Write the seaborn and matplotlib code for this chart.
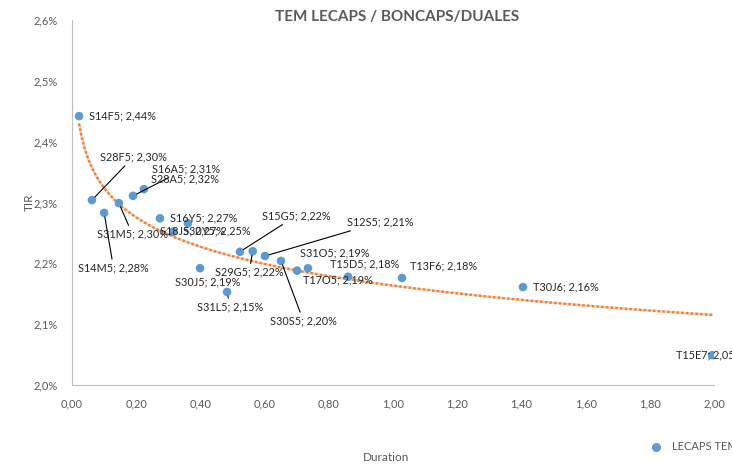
import numpy as np
import pandas as pd
import matplotlib
matplotlib.use("Agg")
import matplotlib.pyplot as plt
import seaborn as sns
from matplotlib.ticker import FuncFormatter
from matplotlib.lines import Line2D

# ---- data ----
tickers = ["S14F5", "S28F5", "S14M5", "S31M5", "S16A5", "S28A5", "S16Y5", "S30Y5",
           "S18J5", "S30J5", "S31L5", "S15G5", "S29G5", "S12S5", "S30S5", "S31O5",
           "T17O5", "T15D5", "T13F6", "T30J6", "T15E7"]
duration = [0.022, 0.062, 0.100, 0.146, 0.190, 0.224, 0.274, 0.315,
            0.361, 0.399, 0.483, 0.523, 0.563, 0.601, 0.651, 0.701,
            0.735, 0.860, 1.028, 1.405, 1.994]
tir = [2.442, 2.304, 2.283, 2.299, 2.311, 2.322, 2.274, 2.252,
       2.266, 2.192, 2.153, 2.219, 2.220, 2.212, 2.204, 2.188,
       2.192, 2.178, 2.176, 2.161, 2.049]
x_ticks = [0.0, 0.2, 0.4, 0.6, 0.8, 1.0, 1.2, 1.4, 1.6, 1.8, 2.0]
y_ticks = [2.0, 2.1, 2.2, 2.3, 2.4, 2.5, 2.6]
series_name = "LECAPS TEM"
title = "TEM LECAPS / BONCAPS/DUALES"

df = pd.DataFrame({"ticker": tickers, "duration": duration, "tir": tir})

# logarithmic trendline fitted from the data
b, a = np.polyfit(np.log(df["duration"]), df["tir"], 1)
xt = np.linspace(df["duration"].min(), df["duration"].max(), 300)
trend = pd.DataFrame({"duration": xt, "tir": a + b * np.log(xt)})

# ---- style ----
sns.set_theme(style="white")
plt.rcParams["font.family"] = ["Lato", "DejaVu Sans"]

# label offsets in pixels (dx, dy) and whether a leader line is drawn
label_style = {
    "S14F5": (10, 0, False), "S28F5": (8, 43, True), "S14M5": (-26, -55, True),
    "S31M5": (-22, -31, True), "S16A5": (19, 27, True), "S28A5": (7, 10, False),
    "S16Y5": (10, 0, False), "S30Y5": (10, 1, False), "S18J5": (-28, -8, False),
    "S30J5": (-25, -14, False), "S31L5": (-30, -15, True), "S15G5": (22, 36, True),
    "S29G5": (-38, -21, True), "S12S5": (82, 34, True), "S30S5": (-11, -60, True),
    "S31O5": (3, 18, False), "T17O5": (-5, -12, False), "T15D5": (-18, 13, False),
    "T13F6": (8, 12, False), "T30J6": (10, 0, False), "T15E7": (-36, 0, False),
}

fig = plt.figure(figsize=(7.32, 4.66), dpi=100)
ax = fig.add_axes([0.0984, 0.1738, 0.8770, 0.7832])

sns.lineplot(data=trend, x="duration", y="tir", ax=ax, color="#F8CBAD",
             lw=1.7, legend=False, zorder=2)
sns.lineplot(data=trend, x="duration", y="tir", ax=ax, color="#ED7D31",
             lw=1.7, ls=(0, (1, 1)), legend=False, zorder=2)
sns.scatterplot(data=df, x="duration", y="tir", ax=ax, color="#5B9BD5",
                s=38, edgecolor="none", zorder=3, legend=False)

for t, d, v in zip(df["ticker"], df["duration"], df["tir"]):
    dx, dy, lead = label_style[t]
    txt = f"{t}; {v:.2f}%".replace(".", ",")
    props = None
    if lead:
        props = dict(arrowstyle="-", color="black", lw=0.8, shrinkA=0, shrinkB=3)
    ax.annotate(txt, xy=(d, v), xytext=(dx, dy), textcoords="offset pixels",
                ha="left", va="center", fontsize=7.8, color="#262626",
                arrowprops=props, zorder=4, annotation_clip=False)

ax.set_xlim(x_ticks[0], x_ticks[-1])
ax.set_ylim(y_ticks[0], y_ticks[-1])
ax.set_xticks(x_ticks)
ax.set_yticks(y_ticks)
ax.xaxis.set_major_formatter(FuncFormatter(lambda v, p: f"{v:.2f}".replace(".", ",")))
ax.yaxis.set_major_formatter(FuncFormatter(lambda v, p: f"{v:.1f}%".replace(".", ",")))
ax.tick_params(axis="both", labelsize=8, labelcolor="#595959", color="#BFBFBF",
               length=4, width=0.8, direction="out", pad=6)
for side in ["top", "right"]:
    ax.spines[side].set_visible(False)
for side in ["left", "bottom"]:
    ax.spines[side].set_color("#BFBFBF")
    ax.spines[side].set_linewidth(0.8)
ax.grid(False)

ax.set_xlabel("Duration", fontsize=8.5, color="#595959", labelpad=0)
ax.xaxis.set_label_coords(0.489, -0.184)
ax.set_ylabel("TIR", fontsize=8.5, color="#595959")
ax.yaxis.set_label_coords(-0.058, 0.50)

fig.text(0.543, 0.963, title, ha="center", va="center", fontsize=11,
         fontweight="bold", color="#595959")

# legend
h = Line2D([], [], marker="o", ls="none", color="#5B9BD5", markersize=5.5)
fig.legend([h], [series_name], loc="center left", bbox_to_anchor=(0.88, 0.041),
           frameon=False, fontsize=8, labelcolor="#595959", handletextpad=0.8,
           borderpad=0, handlelength=1.2)

fig.savefig("out.png", dpi=100)
